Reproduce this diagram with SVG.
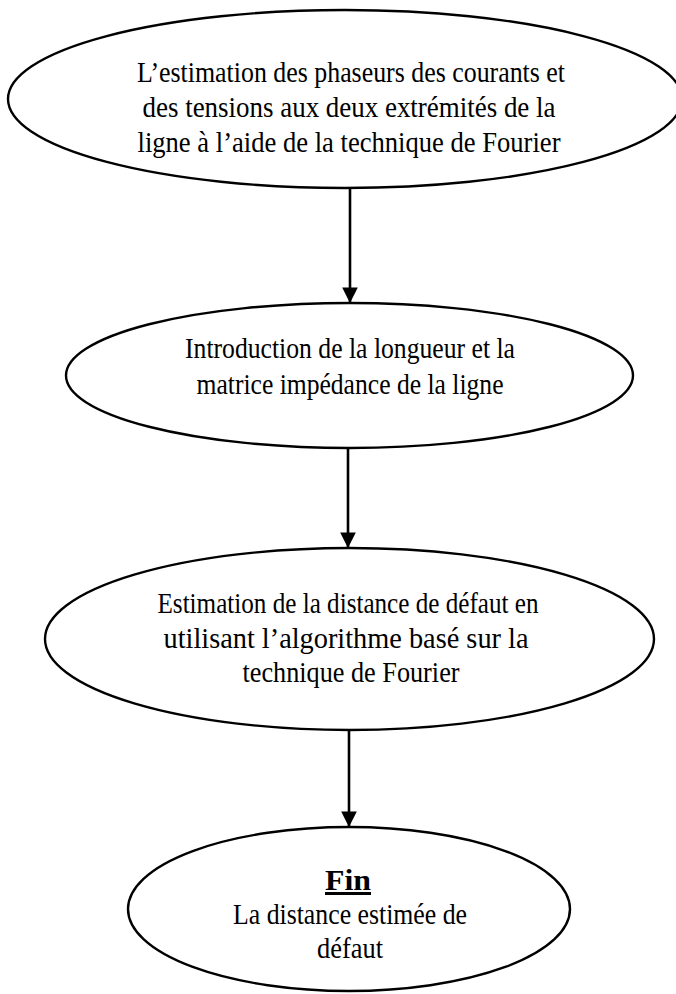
<svg xmlns="http://www.w3.org/2000/svg" width="676" height="994" viewBox="0 0 676 994">
<defs>
<marker id="ah" markerWidth="6" markerHeight="6" refX="5.6" refY="3" orient="auto" markerUnits="strokeWidth">
<path d="M0,0 L6,3 L0,6 Z" fill="#000"/>
</marker>
<style>
.node ellipse{fill:#fff;stroke:#000;stroke-width:2.4}
.node text{font-family:"Liberation Serif","Times New Roman",serif;font-size:30px;fill:#000;text-anchor:middle}
.node text.b{font-weight:bold;text-decoration:underline}
.conn line{stroke:#000;stroke-width:2.6;marker-end:url(#ah)}
</style>
</defs>
<rect width="676" height="994" fill="#fff"/>
<g class="conn" id="connectors">
<line x1="350" y1="188" x2="350" y2="302"/>
<line x1="348" y1="448" x2="348" y2="547"/>
<line x1="349" y1="730" x2="349" y2="826"/>
</g>
<g class="node" id="n1">
<ellipse cx="345" cy="99" rx="337" ry="89"/>
<text x="351" y="82" textLength="428" lengthAdjust="spacingAndGlyphs">L’estimation des phaseurs des courants et</text>
<text x="349" y="117" textLength="413" lengthAdjust="spacingAndGlyphs">des tensions aux deux extrémités de la</text>
<text x="349" y="152" textLength="423" lengthAdjust="spacingAndGlyphs">ligne à  l’aide de la technique de Fourier</text>
</g>
<g class="node" id="n2">
<ellipse cx="349.5" cy="375.5" rx="283.5" ry="72.5"/>
<text x="350" y="358" textLength="330" lengthAdjust="spacingAndGlyphs">Introduction de la longueur et la</text>
<text x="350" y="394" textLength="307" lengthAdjust="spacingAndGlyphs">matrice impédance de la ligne</text>
</g>
<g class="node" id="n3">
<ellipse cx="349.5" cy="639" rx="304.5" ry="91"/>
<text x="348" y="613" textLength="381" lengthAdjust="spacingAndGlyphs">Estimation de la distance de défaut en</text>
<text x="346" y="648" textLength="365" lengthAdjust="spacingAndGlyphs">utilisant l’algorithme basé sur la</text>
<text x="351" y="682" textLength="217" lengthAdjust="spacingAndGlyphs">technique de Fourier</text>
</g>
<g class="node" id="n4">
<ellipse cx="349" cy="909" rx="221" ry="82"/>
<text class="b" x="348" y="890" textLength="46" lengthAdjust="spacingAndGlyphs">Fin</text>
<text x="350" y="924" textLength="234" lengthAdjust="spacingAndGlyphs">La distance estimée de</text>
<text x="350" y="958" textLength="66" lengthAdjust="spacingAndGlyphs">défaut</text>
</g>
</svg>
